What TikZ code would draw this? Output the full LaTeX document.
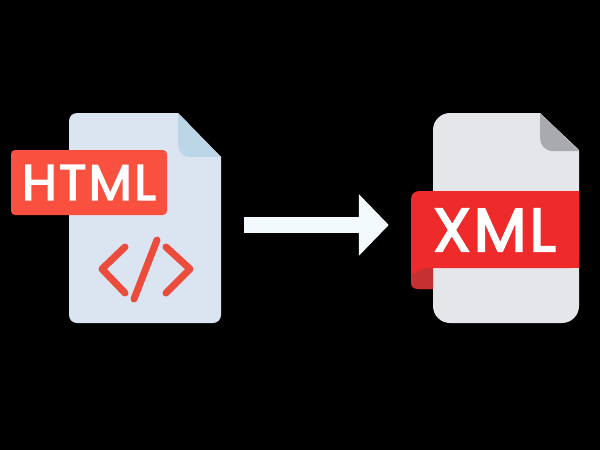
\documentclass[tikz,border=0pt]{standalone}
\usepackage{fontspec}
\setmainfont{Poppins}
\newfontfamily\tagfont[FakeBold=3,LetterSpace=5]{Poppins}
\usetikzlibrary{arrows.meta}
\definecolor{htmlpage}{HTML}{DBE4F1}
\definecolor{htmlfold}{HTML}{BCD6E8}
\definecolor{htmlred}{HTML}{F9503F}
\definecolor{codered}{HTML}{EC4C3B}
\definecolor{xmlpage}{HTML}{E5E6EA}
\definecolor{xmlfold}{HTML}{A9AAAD}
\definecolor{xmlred}{HTML}{EE2A2A}
\definecolor{xmlshade}{HTML}{C73030}
\definecolor{arrowwhite}{HTML}{F2FAFE}
\tikzset{
  tagtext/.style={text=white,inner sep=0pt},
  codeline/.style={draw=codered,line width=7pt,line cap=round,line join=round},
  pagebox/.style={minimum width=#1,minimum height=210pt,inner sep=0pt}
}
\begin{document}
\begin{tikzpicture}[x=1pt,y=-1pt]
  \fill[black] (0,0) rectangle (600,450);
  \useasboundingbox (0,0) rectangle (600,450);
  % html page
  \node[pagebox=152pt] (htmldoc) at (145,218) {};
  \fill[htmlpage] (69,200) [rounded corners=8pt] -- (69,113) [sharp corners] -- (178,113) -- (221,157) [rounded corners=8pt] -- (221,323) -- (69,323) -- cycle;
  \fill[htmlfold] (178,113) -- (178,145) .. controls (178,152) and (183,157) .. (190,157) -- (221,157) -- cycle;
  \node[fill=htmlred,rounded corners=4pt,minimum width=156pt,minimum height=65pt,inner sep=0pt] (htmltag) at (89,182.5) {};
  \node[tagtext,font=\tagfont\fontsize{50}{50}\selectfont] (htmltext) at (htmltag) {HTML};
  \draw[codeline] (125,247) -- (102,269) -- (125,293);
  \draw[codeline] (157,240) -- (134,299);
  \draw[codeline] (166,247) -- (190,269) -- (166,293);
  % xml page
  \node[pagebox=146pt] (xmldoc) at (506,218) {};
  \fill[xmlshade,rounded corners=8pt] (440,240) -- (411,240) -- (411,289) -- (440,289) -- cycle;
  \fill[xmlpage] (433,200) [rounded corners=17pt] -- (433,113) [sharp corners] -- (540,113) -- (579,150) [rounded corners=17pt] -- (579,323) -- (433,323) -- cycle;
  \fill[xmlfold] (540,113) -- (540,138) .. controls (540,145) and (545,151) .. (553,151) -- (579,151) -- cycle;
  \fill[xmlred,rounded corners=8pt] (579,191) -- (411,191) -- (411,278) -- (420,268) -- (579,268) -- cycle;
  \fill[xmlred] (425,191) rectangle (579,268);
  \fill[xmlshade] (411,283) .. controls (411,273) and (420,268) .. (433,268) -- (433,289) -- (418,289) .. controls (414,289) and (411,287) .. (411,283) -- cycle;
  \node[tagtext,font=\tagfont\fontsize{61}{61}\selectfont] (xmltext) at (494.5,230) {XML};
  % arrow between the pages
  \draw[arrowwhite,line width=16pt,-{Triangle[length=30pt,width=60pt]},shorten <=23pt,shorten >=44pt] (htmldoc.east |- 0,225) -- (xmldoc.west |- 0,225);
\end{tikzpicture}
\end{document}
